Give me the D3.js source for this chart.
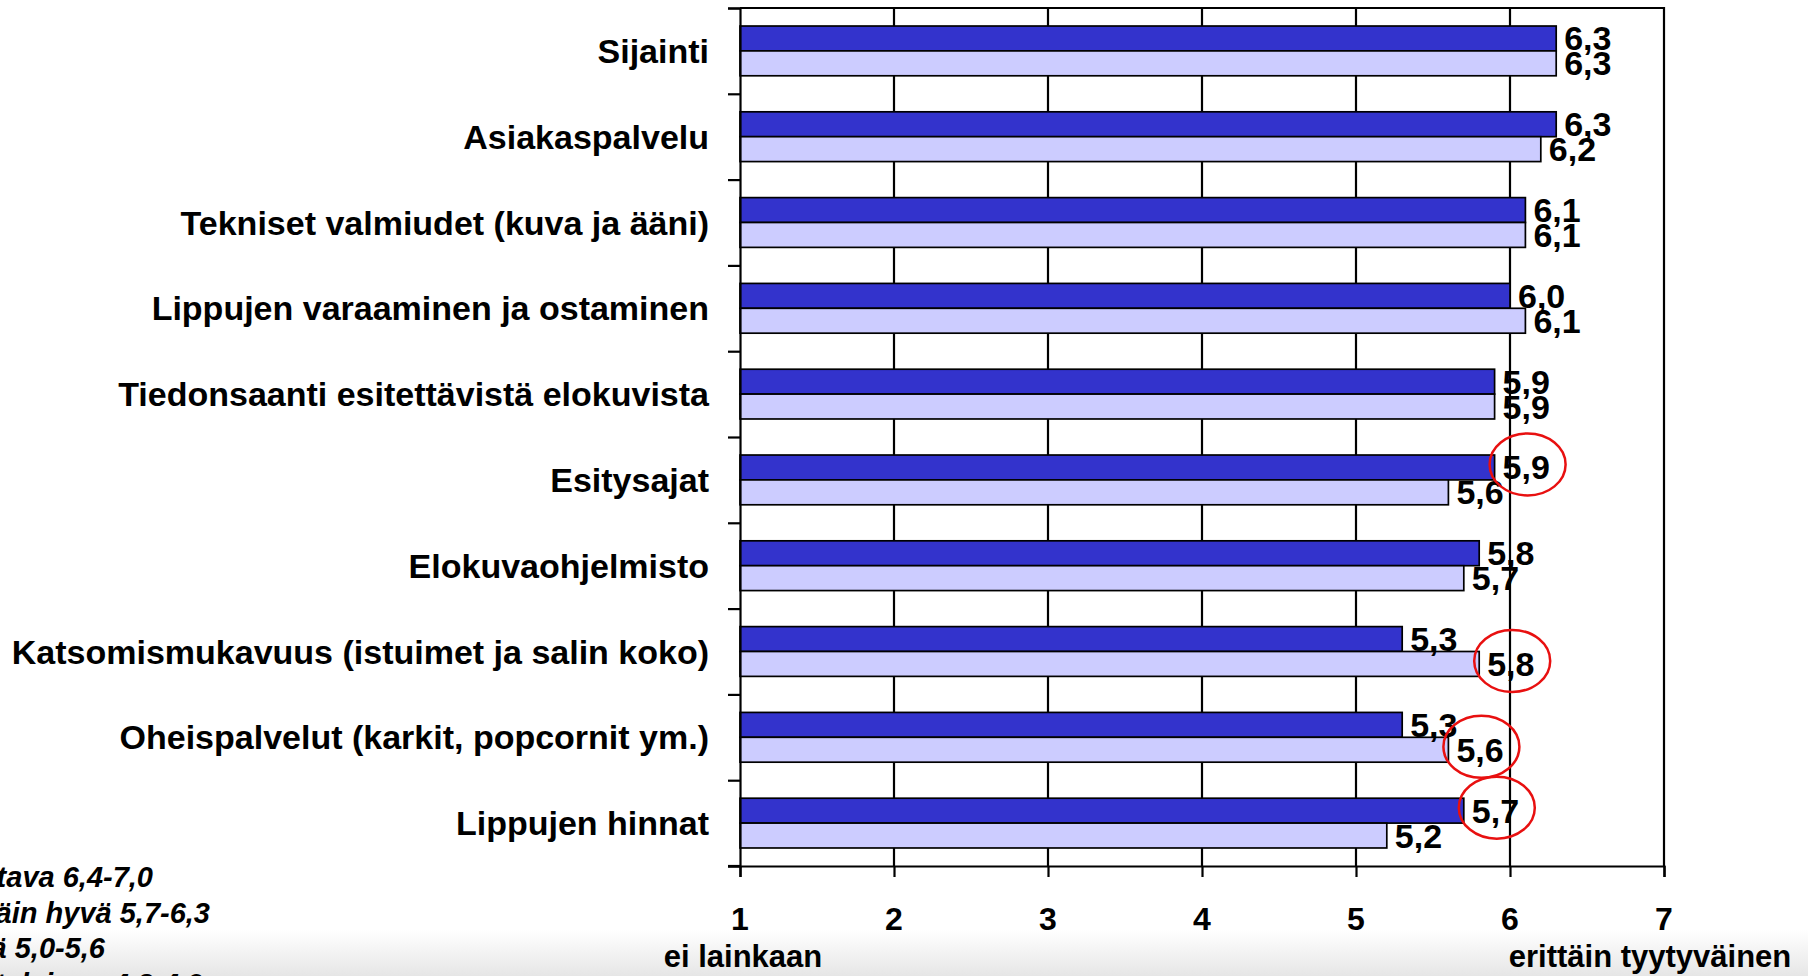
<!doctype html>
<html>
<head>
<meta charset="utf-8">
<script src="https://d3js.org/d3.v7.min.js"></script>
<style>
  body { margin: 0; background: #fff; }
  svg { display: block; font-family: "Liberation Sans", Arial, sans-serif; }
</style>
</head>
<body>
<svg width="1808" height="976"></svg>
<script>

// data
var categories = [
  "Sijainti",
  "Asiakaspalvelu",
  "Tekniset valmiudet (kuva ja ääni)",
  "Lippujen varaaminen ja ostaminen",
  "Tiedonsaanti esitettävistä elokuvista",
  "Esitysajat",
  "Elokuvaohjelmisto",
  "Katsomismukavuus (istuimet ja salin koko)",
  "Oheispalvelut (karkit, popcornit ym.)",
  "Lippujen hinnat"
];
var darkValues  = [6.3, 6.3, 6.1, 6.0, 5.9, 5.9, 5.8, 5.3, 5.3, 5.7];
var lightValues = [6.3, 6.2, 6.1, 6.1, 5.9, 5.6, 5.7, 5.8, 5.6, 5.2];
var xTicks = [1, 2, 3, 4, 5, 6, 7];
var scaleEnds = ["ei lainkaan", "erittäin tyytyväinen"];
var legendLines = ["Loistava 6,4-7,0", "Erittäin hyvä 5,7-6,3", "Hyvä 5,0-5,6", "Kohtalainen 4,3-4,9"];
// circled labels: [category index, series index]
var circled = [[5, 0], [7, 1], [8, 1], [9, 0]];

var series = [darkValues, lightValues];
var colors = ["#3333cc", "#ccccff"];

var svg = d3.select("svg");
var plotLeft = 740, plotRight = 1664, plotTop = 8, plotBottom = 866;

var x = d3.scaleLinear().domain([1, 7]).range([plotLeft, plotRight]);
var y0 = d3.scaleBand().domain(categories).range([plotTop, plotBottom])
           .paddingInner(0.42).paddingOuter(0.21);
var y1 = d3.scaleBand().domain([0, 1]).range([0, y0.bandwidth()]);
var yEdge = d3.scaleLinear().domain([0, categories.length]).range([plotTop, plotBottom]);

var fmt = function(v) { return d3.format(".1f")(v).replace(".", ","); };

// grey shade at the bottom of the screenshot
var grad = svg.append("defs").append("linearGradient")
    .attr("id", "shade").attr("x1", 0).attr("y1", 0).attr("x2", 0).attr("y2", 1);
grad.append("stop").attr("offset", "0%").attr("stop-color", "#ffffff");
grad.append("stop").attr("offset", "100%").attr("stop-color", "#e6e6e6");
svg.append("rect").attr("x", 0).attr("y", 930).attr("width", 1808).attr("height", 46)
   .attr("fill", "url(#shade)");

// vertical grid lines
svg.append("g").selectAll("line").data(xTicks.slice(1, -1)).join("line")
   .attr("x1", function(d) { return x(d); }).attr("x2", function(d) { return x(d); })
   .attr("y1", plotTop).attr("y2", plotBottom)
   .attr("stroke", "#000").attr("stroke-width", 2.2);

// plot frame top / right
svg.append("path")
   .attr("d", "M" + plotLeft + "," + plotTop + "H" + plotRight + "V" + plotBottom)
   .attr("fill", "none").attr("stroke", "#000").attr("stroke-width", 2.2);

// bars
var groups = svg.append("g").selectAll("g").data(categories).join("g")
   .attr("transform", function(d) { return "translate(0," + y0(d) + ")"; });

var pairs = function(d, i) { return [0, 1].map(function(s) { return {s: s, v: series[s][i]}; }); };

groups.selectAll("rect").data(pairs).join("rect")
   .attr("x", x(1))
   .attr("y", function(d) { return y1(d.s); })
   .attr("width", function(d) { return x(d.v) - x(1); })
   .attr("height", y1.bandwidth())
   .attr("fill", function(d) { return colors[d.s]; })
   .attr("stroke", "#000").attr("stroke-width", 1.7);

groups.selectAll("text").data(pairs).join("text")
   .attr("x", function(d) { return x(d.v) + 8; })
   .attr("y", function(d) { return y1(d.s) + y1.bandwidth() / 2 + 12; })
   .attr("font-size", 34).attr("font-weight", "bold").attr("fill", "#000")
   .text(function(d) { return fmt(d.v); });

// left axis: ticks on category boundaries
svg.append("g")
   .attr("transform", "translate(" + plotLeft + ",0)")
   .call(d3.axisLeft(yEdge).tickValues(d3.range(categories.length + 1)).tickSize(12).tickFormat(""))
   .call(function(g) { g.selectAll("path, line").attr("stroke", "#000").attr("stroke-width", 2.2); });

// bottom axis
svg.append("g")
   .attr("transform", "translate(0," + plotBottom + ")")
   .call(d3.axisBottom(x).tickValues(xTicks).tickSize(11).tickSizeOuter(11).tickFormat(""))
   .call(function(g) { g.selectAll("path, line").attr("stroke", "#000").attr("stroke-width", 2.2); });

svg.append("line").attr("x1", plotLeft - 12).attr("x2", plotLeft).attr("y1", plotBottom).attr("y2", plotBottom)
   .attr("stroke", "#000").attr("stroke-width", 2.2);

svg.append("g").selectAll("text").data(xTicks).join("text")
   .attr("x", function(d) { return x(d); }).attr("y", 930)
   .attr("text-anchor", "middle").attr("font-size", 32).attr("font-weight", "bold")
   .text(function(d) { return d; });

// scale end captions
svg.append("text").attr("x", x(1) + 3).attr("y", 967)
   .attr("text-anchor", "middle").attr("font-size", 31).attr("font-weight", "bold")
   .text(scaleEnds[0]);
svg.append("text").attr("x", x(7) - 14).attr("y", 967)
   .attr("text-anchor", "middle").attr("font-size", 31).attr("font-weight", "bold")
   .text(scaleEnds[1]);

// category labels
svg.append("g").selectAll("text").data(categories).join("text")
   .attr("x", 709)
   .attr("y", function(d) { return y0(d) + y0.bandwidth() / 2 + 12; })
   .attr("text-anchor", "end").attr("font-size", 34).attr("font-weight", "bold")
   .text(function(d) { return d; });

// legend text, cut off at the left edge
svg.append("g").selectAll("text").data(legendLines).join("text")
   .attr("x", function(d, i) { return [153, 210, 105, 203][i]; })
   .attr("y", function(d, i) { return 887 + i * 35.5; })
   .attr("text-anchor", "end").attr("font-size", 29).attr("font-weight", "bold").attr("font-style", "italic")
   .text(function(d) { return d; });

// red circles round some labels
svg.append("g").selectAll("ellipse").data(circled).join("ellipse")
   .attr("cx", function(d) { return x(series[d[1]][d[0]]) + 33; })
   .attr("cy", function(d) { return y0(categories[d[0]]) + y1(d[1]) + y1.bandwidth() / 2 - 3; })
   .attr("rx", 38).attr("ry", 31)
   .attr("fill", "none").attr("stroke", "#e81010").attr("stroke-width", 2.5);

</script>
</body>
</html>
